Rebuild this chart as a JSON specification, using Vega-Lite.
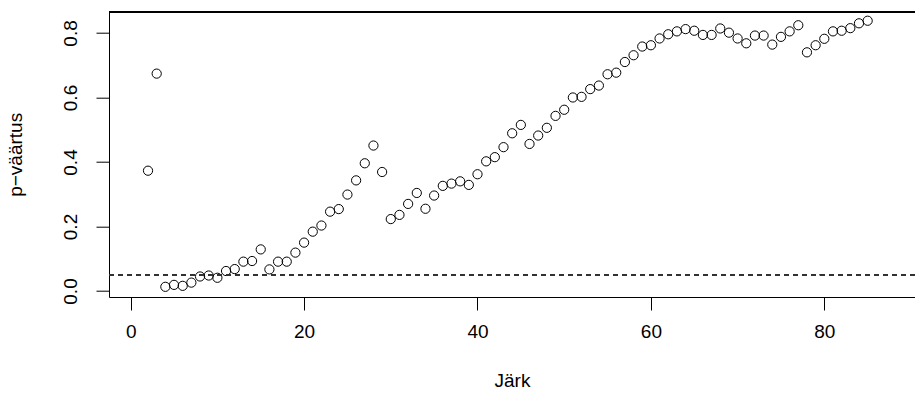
{
  "$schema": "https://vega.github.io/schema/vega-lite/v6.json",
  "autosize": {"type": "none"},
  "width": 806,
  "height": 285.3,
  "padding": {"left": 109, "top": 11.7, "right": 0, "bottom": 102},
  "background": "white",
  "config": {
    "view": {"stroke": null},
    "font": "Liberation Sans",
    "axis": {
      "grid": false,
      "domainColor": "black",
      "domainWidth": 1,
      "tickColor": "black",
      "tickWidth": 1,
      "tickSize": 13,
      "labelColor": "black",
      "labelFontSize": 19,
      "labelFont": "Liberation Sans",
      "titleFont": "Liberation Sans",
      "titleFontSize": 19,
      "titleFontWeight": "normal",
      "titleColor": "black"
    }
  },
  "data": {
    "values": [
      {"x": 2, "p": 0.373}, {"x": 3, "p": 0.674}, {"x": 4, "p": 0.013}, {"x": 5, "p": 0.019},
      {"x": 6, "p": 0.016}, {"x": 7, "p": 0.026}, {"x": 8, "p": 0.045}, {"x": 9, "p": 0.048},
      {"x": 10, "p": 0.041}, {"x": 11, "p": 0.062}, {"x": 12, "p": 0.068}, {"x": 13, "p": 0.091},
      {"x": 14, "p": 0.093}, {"x": 15, "p": 0.129}, {"x": 16, "p": 0.067}, {"x": 17, "p": 0.091},
      {"x": 18, "p": 0.091}, {"x": 19, "p": 0.119}, {"x": 20, "p": 0.150}, {"x": 21, "p": 0.184},
      {"x": 22, "p": 0.203}, {"x": 23, "p": 0.246}, {"x": 24, "p": 0.254}, {"x": 25, "p": 0.299},
      {"x": 26, "p": 0.343}, {"x": 27, "p": 0.396}, {"x": 28, "p": 0.451}, {"x": 29, "p": 0.369},
      {"x": 30, "p": 0.223}, {"x": 31, "p": 0.236}, {"x": 32, "p": 0.270}, {"x": 33, "p": 0.304},
      {"x": 34, "p": 0.255}, {"x": 35, "p": 0.296}, {"x": 36, "p": 0.326}, {"x": 37, "p": 0.333},
      {"x": 38, "p": 0.340}, {"x": 39, "p": 0.329}, {"x": 40, "p": 0.362}, {"x": 41, "p": 0.402},
      {"x": 42, "p": 0.415}, {"x": 43, "p": 0.446}, {"x": 44, "p": 0.489}, {"x": 45, "p": 0.515},
      {"x": 46, "p": 0.456}, {"x": 47, "p": 0.482}, {"x": 48, "p": 0.506}, {"x": 49, "p": 0.543},
      {"x": 50, "p": 0.562}, {"x": 51, "p": 0.600}, {"x": 52, "p": 0.602}, {"x": 53, "p": 0.626},
      {"x": 54, "p": 0.637}, {"x": 55, "p": 0.672}, {"x": 56, "p": 0.677}, {"x": 57, "p": 0.710},
      {"x": 58, "p": 0.731}, {"x": 59, "p": 0.758}, {"x": 60, "p": 0.762}, {"x": 61, "p": 0.783},
      {"x": 62, "p": 0.796}, {"x": 63, "p": 0.805}, {"x": 64, "p": 0.812}, {"x": 65, "p": 0.807},
      {"x": 66, "p": 0.794}, {"x": 67, "p": 0.794}, {"x": 68, "p": 0.814}, {"x": 69, "p": 0.801},
      {"x": 70, "p": 0.783}, {"x": 71, "p": 0.768}, {"x": 72, "p": 0.792}, {"x": 73, "p": 0.792},
      {"x": 74, "p": 0.764}, {"x": 75, "p": 0.788}, {"x": 76, "p": 0.805}, {"x": 77, "p": 0.824},
      {"x": 78, "p": 0.740}, {"x": 79, "p": 0.762}, {"x": 80, "p": 0.782}, {"x": 81, "p": 0.805},
      {"x": 82, "p": 0.807}, {"x": 83, "p": 0.815}, {"x": 84, "p": 0.830}, {"x": 85, "p": 0.838}
    ]
  },
  "layer": [
    {
      "mark": {"type": "point", "shape": "circle", "filled": false, "stroke": "black", "strokeWidth": 1, "size": 85, "opacity": 1},
      "encoding": {
        "x": {
          "field": "x", "type": "quantitative",
          "scale": {"domain": [-2.5, 90.46], "nice": false, "zero": false},
          "axis": {"values": [0, 20, 40, 60, 80], "format": "d", "title": "Järk", "labelPadding": 12, "titlePadding": 30}
        },
        "y": {
          "field": "p", "type": "quantitative",
          "scale": {"domain": [-0.0186, 0.866], "nice": false, "zero": false},
          "axis": {"values": [0, 0.2, 0.4, 0.6, 0.8], "format": ".1f", "title": "p−väärtus", "labelAngle": -90, "labelAlign": "center", "labelBaseline": "bottom", "labelPadding": 16, "titlePadding": 36}
        }
      }
    },
    {
      "mark": {"type": "rule", "stroke": "#333333", "strokeWidth": 1, "strokeDash": [5, 4]},
      "encoding": {"y": {"datum": 0.05, "type": "quantitative"}}
    },
    {
      "mark": {"type": "rule", "stroke": "black", "strokeWidth": 1},
      "encoding": {"y": {"datum": 0.866, "type": "quantitative"}}
    }
  ]
}
